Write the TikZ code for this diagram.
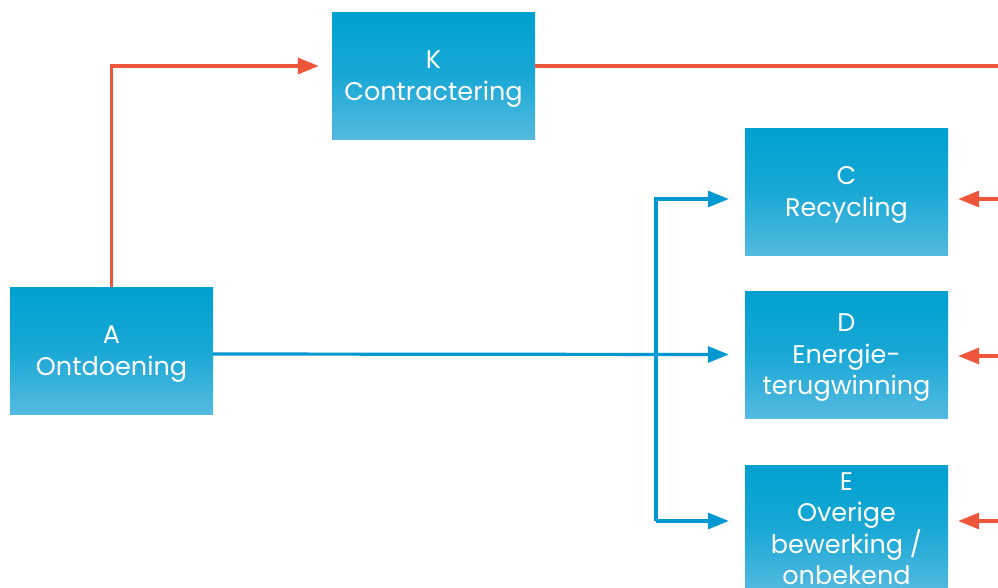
\documentclass[tikz,border=0pt]{standalone}
\usepackage{fontspec}
\setmainfont{Poppins}
\usetikzlibrary{arrows.meta}
\definecolor{boxtop}{RGB}{0,160,208}
\definecolor{boxbot}{RGB}{84,186,224}
\definecolor{flowblue}{RGB}{0,152,208}
\definecolor{flowred}{RGB}{238,86,60}
\tikzset{
  stagebox/.style={minimum width=203pt, minimum height=127pt, inner sep=0pt,
    top color=boxtop, bottom color=boxbot, middle color=boxtop!70!boxbot,
    text=white, align=center, text depth=0pt, font=\fontsize{25.5}{31.5}\selectfont},
  redflow/.style={draw=flowred, line width=3.2pt, -{Triangle[length=21pt,width=16pt]}},
  blueflow/.style={draw=flowblue, line width=3.2pt, -{Triangle[length=21pt,width=16pt]}},
  redline/.style={draw=flowred, line width=3.2pt},
  blueline/.style={draw=flowblue, line width=3.2pt}
}
\begin{document}
\begin{tikzpicture}[x=1pt,y=-1pt]
\useasboundingbox (0,0) rectangle (998,587);
\clip (0,0) rectangle (998,587);
\node[stagebox] (K) at (433.5,75.5) {K\\Contractering};
\node[stagebox] (A) at (111.5,350.5) {A\\Ontdoening};
\node[stagebox] (C) at (846.5,191.5) {C\\Recycling};
\node[stagebox] (D) at (846.5,354.5) {D\\Energie-\\terugwinning};
\node[stagebox] (E) at (846.5,528.5) {E\\Overige\\bewerking /\\onbekend};
\coordinate (kout) at (1000,66);
\coordinate (split) at (656,354);
\coordinate (rc) at (1000,199);
\coordinate (rd) at (1000,356);
\coordinate (re) at (1000,521);
% red flows
\draw[redflow] (A.north) |- ([xshift=-13pt,yshift=9.5pt]K.west);
\draw[redline] ([yshift=9.5pt]K.east) -- (kout);
\draw[redflow] (rc) -- ([xshift=10pt,yshift=-7.5pt]C.east);
\draw[redflow] (rd) -- ([xshift=10pt,yshift=-1.5pt]D.east);
\draw[redflow] (re) -- ([xshift=10pt,yshift=7.5pt]E.east);
% blue flows
\draw[blueflow] ([yshift=-3.5pt]A.east) -- ([xshift=-16pt]D.west);
\draw[blueflow] (split |- re) -- (split |- rc) -- ([xshift=-16pt,yshift=-7.5pt]C.west);
\draw[blueflow] (split |- re) -- ([xshift=-16pt,yshift=7.5pt]E.west);
\end{tikzpicture}
\end{document}
